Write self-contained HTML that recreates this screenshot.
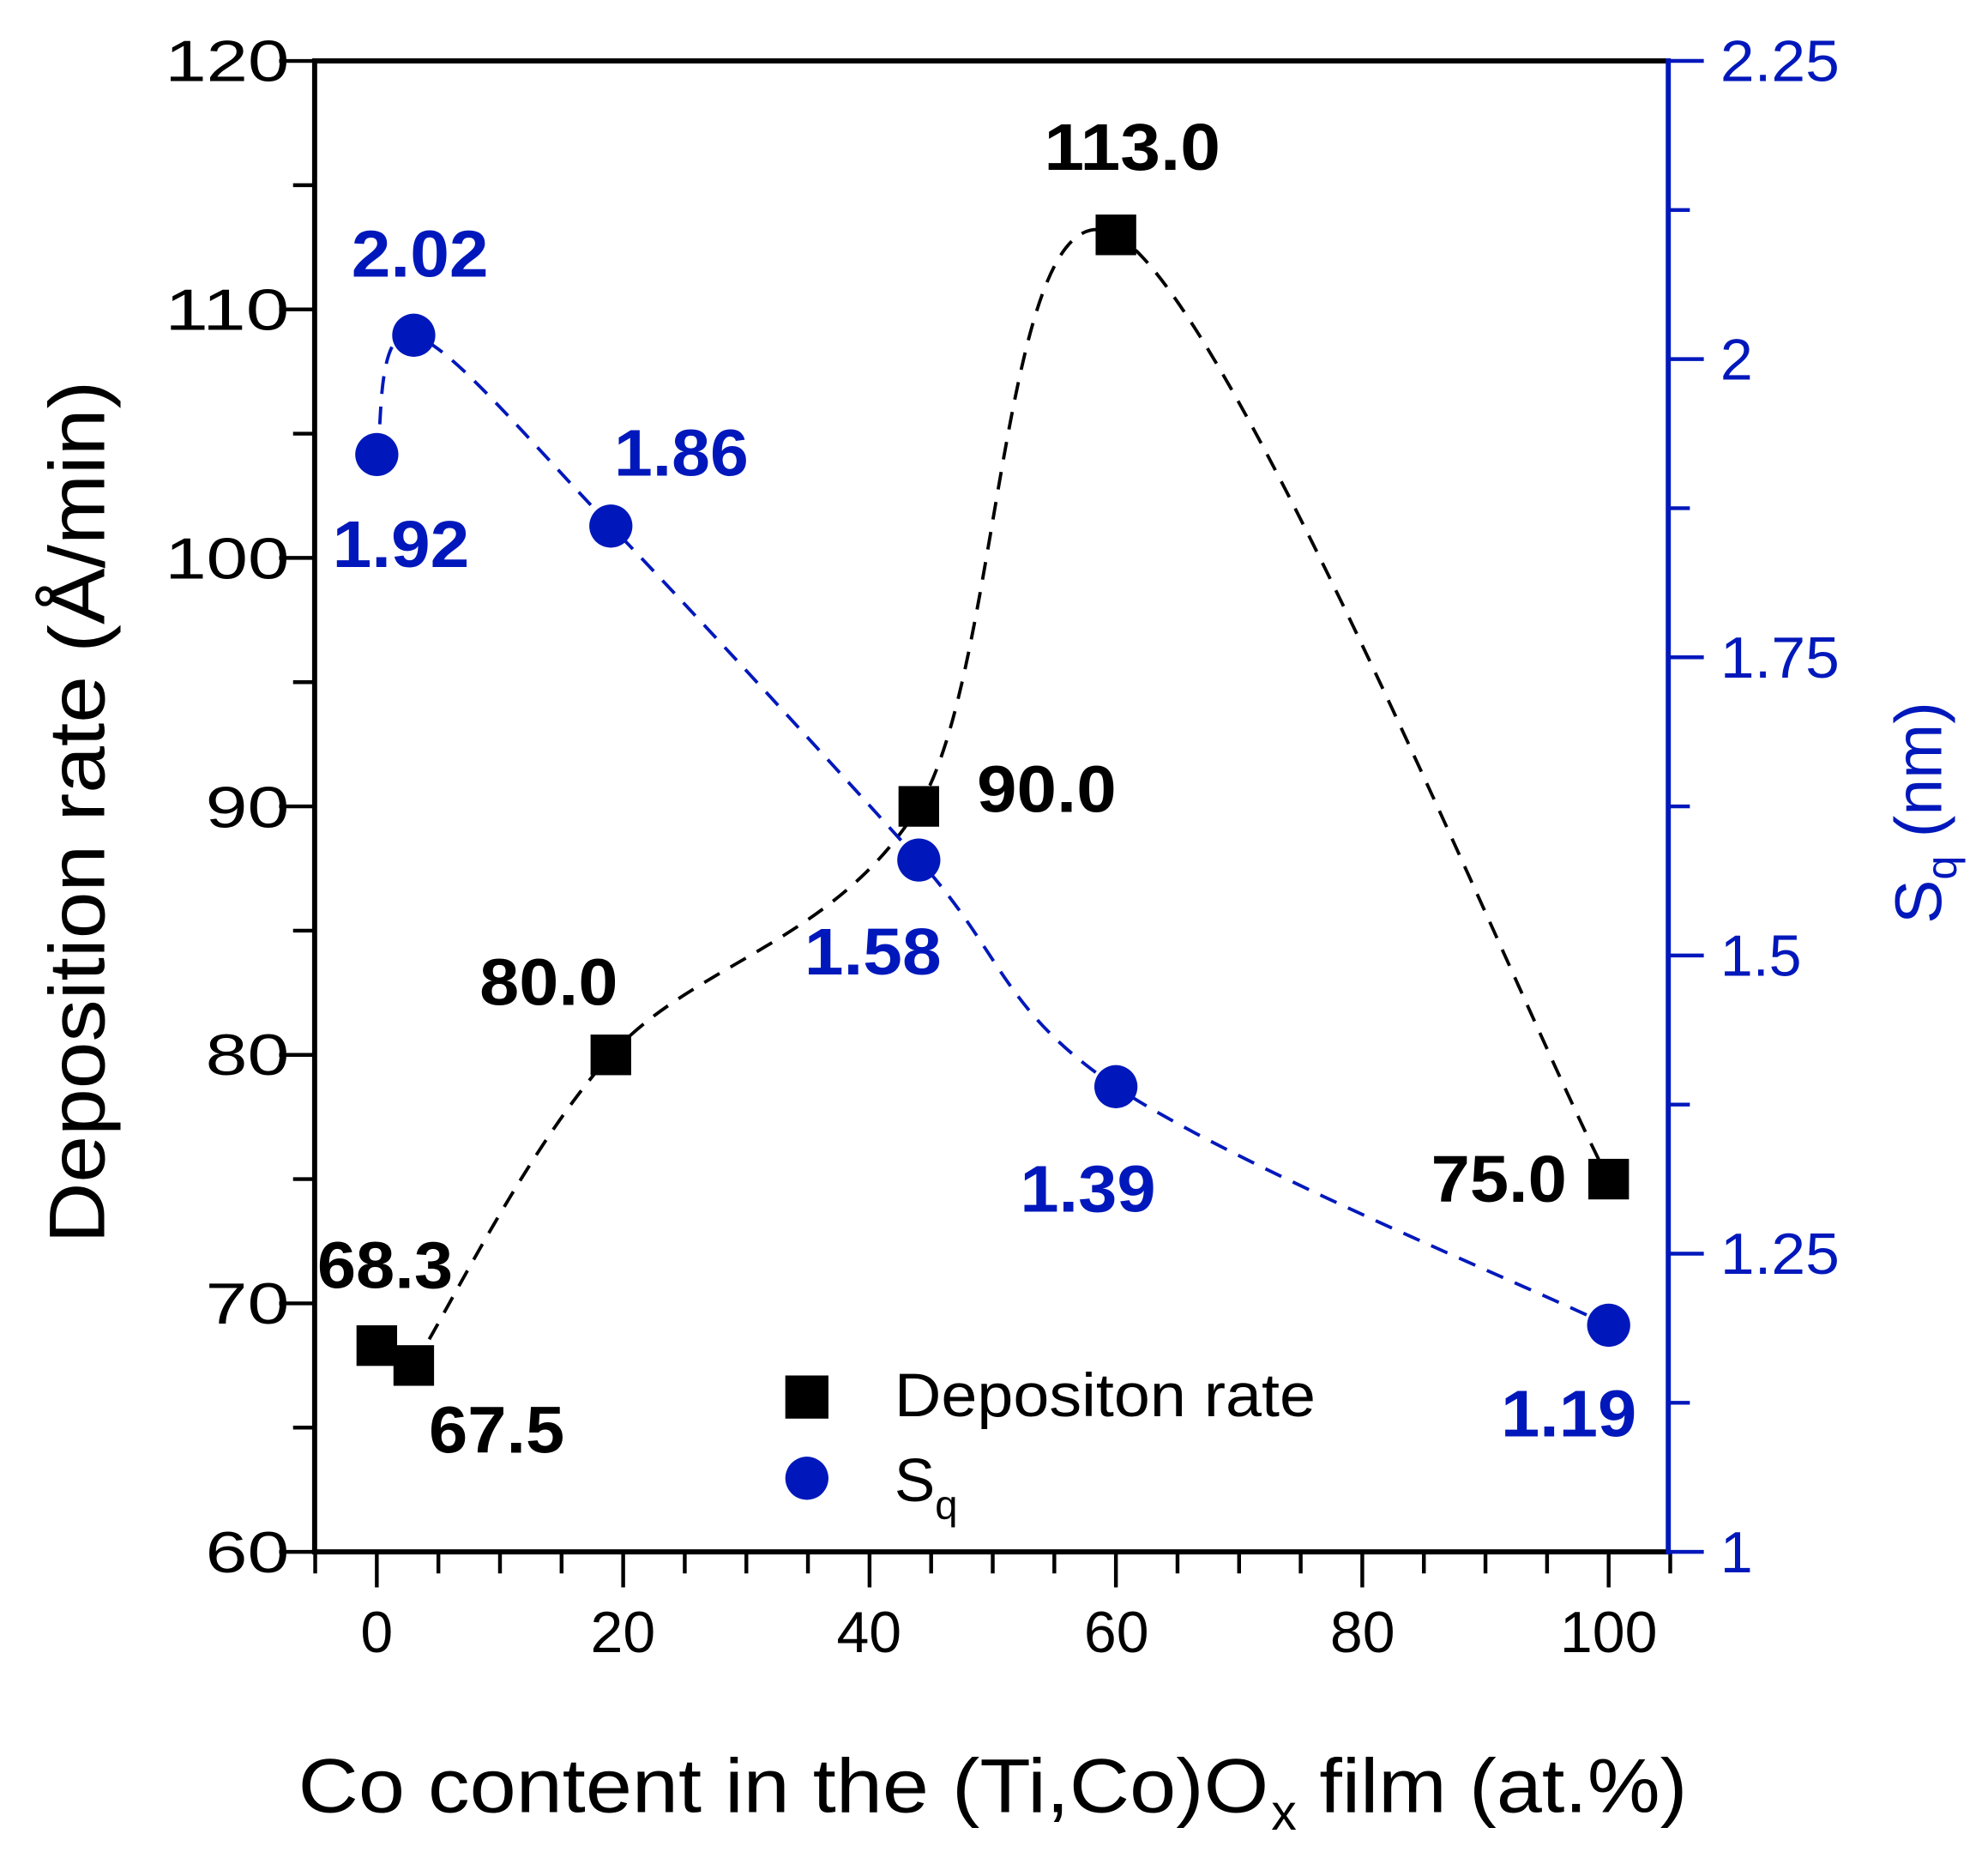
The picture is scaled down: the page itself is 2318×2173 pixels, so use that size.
<!DOCTYPE html>
<html><head><meta charset="utf-8"><style>
html,body{margin:0;padding:0;background:#fff}
svg{display:block}
text{font-family:"Liberation Sans",sans-serif}
</style></head><body>
<svg id="s" width="2318" height="2173" viewBox="0 0 1567 1469" xmlns="http://www.w3.org/2000/svg">
<rect width="1567" height="1469" fill="#fff"/>
<g id="ticks"></g>
<path id="pb" fill="none" stroke="#000" stroke-width="2.6" stroke-dasharray="14,10"/>
<path id="pbl" fill="none" stroke="#0018bb" stroke-width="2.6" stroke-dasharray="14,10"/>
<line x1="248" y1="48" x2="1315" y2="48" stroke="#000" stroke-width="4"/>
<line x1="248" y1="46" x2="248" y2="1225" stroke="#000" stroke-width="4"/>
<line x1="246" y1="1223" x2="1315" y2="1223" stroke="#000" stroke-width="4"/>
<line x1="1315" y1="46" x2="1315" y2="1225" stroke="#0018bb" stroke-width="4"/>
<g id="pts"></g>
<g font-size="46" fill="#000" text-anchor="end">
<text x="228" y="64" textLength="98" lengthAdjust="spacingAndGlyphs">120</text>
<text x="228" y="260" textLength="98" lengthAdjust="spacingAndGlyphs">110</text>
<text x="228" y="456" textLength="98" lengthAdjust="spacingAndGlyphs">100</text>
<text x="228" y="652" textLength="66" lengthAdjust="spacingAndGlyphs">90</text>
<text x="228" y="847" textLength="66" lengthAdjust="spacingAndGlyphs">80</text>
<text x="228" y="1043" textLength="66" lengthAdjust="spacingAndGlyphs">70</text>
<text x="228" y="1239" textLength="66" lengthAdjust="spacingAndGlyphs">60</text>
</g>
<g font-size="46" fill="#000" text-anchor="middle">
<text x="297" y="1302">0</text><text x="491" y="1302">20</text><text x="685" y="1302">40</text>
<text x="880" y="1302">60</text><text x="1074" y="1302">80</text><text x="1268" y="1302">100</text>
</g>
<g font-size="46" fill="#0018bb">
<text x="1356" y="64" textLength="94" lengthAdjust="spacingAndGlyphs">2.25</text>
<text x="1356" y="299">2</text>
<text x="1356" y="534" textLength="94" lengthAdjust="spacingAndGlyphs">1.75</text>
<text x="1356" y="769" textLength="64" lengthAdjust="spacingAndGlyphs">1.5</text>
<text x="1356" y="1004" textLength="94" lengthAdjust="spacingAndGlyphs">1.25</text>
<text x="1356" y="1239">1</text>
</g>
<text x="235" y="1428" font-size="60" textLength="765" lengthAdjust="spacingAndGlyphs">Co content in the (Ti,Co)O</text>
<text x="1002" y="1442" font-size="40">x</text>
<text x="1040" y="1428" font-size="60" textLength="290" lengthAdjust="spacingAndGlyphs">film (at.%)</text>
<text transform="translate(82,640) rotate(-90)" font-size="62" text-anchor="middle" textLength="680" lengthAdjust="spacingAndGlyphs">Deposition rate (Å/min)</text>
<text transform="translate(1530,728) rotate(-90)" font-size="52" fill="#0018bb">S<tspan font-size="34" dy="12">q</tspan><tspan dy="-12"> (nm)</tspan></text>
<g font-size="52" font-weight="bold" fill="#000">
<text x="250" y="1015" textLength="107" lengthAdjust="spacingAndGlyphs">68.3</text>
<text x="338" y="1145" textLength="107" lengthAdjust="spacingAndGlyphs">67.5</text>
<text x="378" y="792" textLength="109" lengthAdjust="spacingAndGlyphs">80.0</text>
<text x="770" y="640" textLength="110" lengthAdjust="spacingAndGlyphs">90.0</text>
<text x="823" y="134" textLength="139" lengthAdjust="spacingAndGlyphs">113.0</text>
<text x="1128" y="947" textLength="107" lengthAdjust="spacingAndGlyphs">75.0</text>
</g>
<g font-size="52" font-weight="bold" fill="#0018bb">
<text x="262" y="447" textLength="108" lengthAdjust="spacingAndGlyphs">1.92</text>
<text x="277" y="218" textLength="108" lengthAdjust="spacingAndGlyphs">2.02</text>
<text x="484" y="375" textLength="106" lengthAdjust="spacingAndGlyphs">1.86</text>
<text x="634" y="768" textLength="108" lengthAdjust="spacingAndGlyphs">1.58</text>
<text x="804" y="955" textLength="107" lengthAdjust="spacingAndGlyphs">1.39</text>
<text x="1183" y="1132" textLength="107" lengthAdjust="spacingAndGlyphs">1.19</text>
</g>
<rect x="619" y="1084" width="34" height="34" fill="#000"/>
<circle cx="636" cy="1165" r="17" fill="#0018bb"/>
<text x="705" y="1116" font-size="48" textLength="332" lengthAdjust="spacingAndGlyphs">Depositon rate</text>
<text x="705" y="1183" font-size="48">S<tspan font-size="32" dy="14">q</tspan></text>
</svg>
<script>
function X(v){return 297+v*9.71}
function YL(v){return 1223-(v-60)*19.583}
function YR(v){return 1223-(v-1)*940}
var t="";
for(var v=-5;v<=105;v+=5){var M=v%20==0;t+='<line x1="'+X(v)+'" y1="1223" x2="'+X(v)+'" y2="'+(1223+(M?28:17))+'" stroke="#000" stroke-width="3"/>';}
for(var v=60;v<=120;v+=5){var M=v%10==0;t+='<line x1="248" y1="'+YL(v)+'" x2="'+(248-(M?28:17))+'" y2="'+YL(v)+'" stroke="#000" stroke-width="3"/>';}
for(var v=1;v<=2.2501;v+=0.125){var M=Math.abs(v*4-Math.round(v*4))<1e-6;t+='<line x1="1315" y1="'+YR(v)+'" x2="'+(1315+(M?28:17))+'" y2="'+YR(v)+'" stroke="#0018bb" stroke-width="3"/>';}
document.getElementById("ticks").innerHTML=t;
function cr(p){var d="M"+p[0][0]+","+p[0][1];for(var i=0;i<p.length-1;i++){var a=p[i-1]||p[i],b=p[i],c=p[i+1],e=p[i+2]||c;
d+=" C"+(b[0]+(c[0]-a[0])/6)+","+(b[1]+(c[1]-a[1])/6)+" "+(c[0]-(e[0]-b[0])/6)+","+(c[1]-(e[1]-b[1])/6)+" "+c[0]+","+c[1];}return d}
var xs=[0,3,19,44,60,100],dep=[68.3,67.5,80,90,113,75],sq=[1.92,2.02,1.86,1.58,1.39,1.19];
var pd=[],ps=[];for(var i=0;i<6;i++){pd.push([X(xs[i]),YL(dep[i])]);ps.push([X(xs[i]),YR(sq[i])]);}
document.getElementById("pb").setAttribute("d",cr(pd.slice(1)));
document.getElementById("pbl").setAttribute("d",cr(ps));
var g="";for(var i=0;i<6;i++){g+='<rect x="'+(pd[i][0]-16)+'" y="'+(pd[i][1]-16)+'" width="32" height="32" fill="#000"/>';}
for(var i=0;i<6;i++){g+='<circle cx="'+ps[i][0]+'" cy="'+ps[i][1]+'" r="17" fill="#0018bb"/>';}
document.getElementById("pts").innerHTML=g;
</script>
</body></html>
